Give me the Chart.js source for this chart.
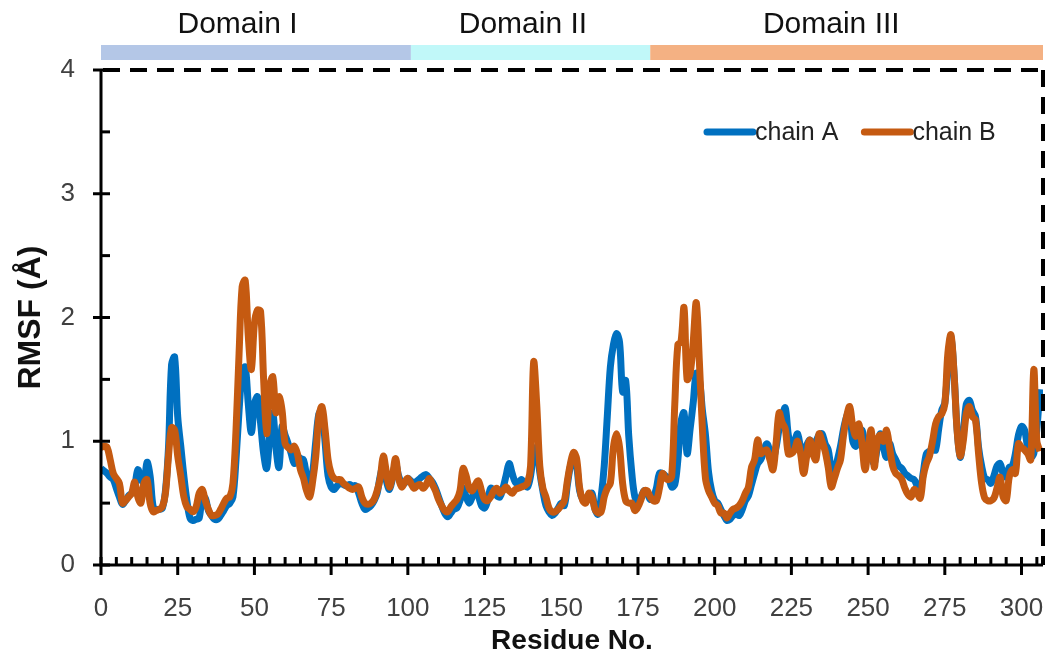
<!DOCTYPE html>
<html>
<head>
<meta charset="utf-8">
<script src="https://cdn.jsdelivr.net/npm/chart.js@4.4.1/dist/chart.umd.min.js"></script>
<style>
  html, body { margin: 0; padding: 0; background: #fff; }
  #wrap { width: 1050px; height: 661px; }
</style>
</head>
<body>
<div id="wrap"><canvas id="rmsf"></canvas></div>
<script>
// RMSF per residue (index = residue number)
const chainA = [
  0.78,0.76,0.74,0.71,0.69,0.62,0.55,0.49,0.52,0.56,
  0.58,0.64,0.77,0.70,0.66,0.83,0.72,0.47,0.45,0.45,
  0.46,0.60,0.95,1.62,1.68,1.20,0.96,0.72,0.52,0.38,
  0.36,0.37,0.38,0.55,0.54,0.44,0.40,0.37,0.37,0.40,
  0.44,0.48,0.50,0.55,0.85,1.25,1.55,1.60,1.30,1.07,
  1.30,1.36,1.15,0.90,0.78,1.05,1.23,0.95,0.79,1.12,
  1.05,0.98,0.90,0.82,0.88,0.86,0.85,0.72,0.62,0.75,
  1.00,1.22,1.25,1.00,0.72,0.63,0.61,0.64,0.66,0.65,
  0.64,0.65,0.64,0.64,0.58,0.50,0.45,0.46,0.48,0.52,
  0.58,0.72,0.80,0.68,0.61,0.70,0.82,0.72,0.66,0.66,
  0.70,0.68,0.66,0.68,0.70,0.72,0.73,0.70,0.67,0.62,
  0.55,0.48,0.42,0.39,0.42,0.45,0.46,0.52,0.62,0.55,
  0.50,0.55,0.63,0.56,0.48,0.46,0.52,0.62,0.60,0.56,
  0.55,0.62,0.72,0.82,0.74,0.67,0.66,0.69,0.66,0.63,
  0.72,0.90,0.95,0.75,0.60,0.48,0.43,0.40,0.42,0.46,
  0.50,0.48,0.65,0.80,0.87,0.80,0.60,0.53,0.52,0.56,
  0.58,0.45,0.41,0.55,0.80,1.20,1.60,1.78,1.87,1.80,
  1.40,1.49,1.04,0.74,0.55,0.52,0.55,0.60,0.58,0.53,
  0.55,0.62,0.74,0.74,0.72,0.70,0.63,0.65,0.85,1.15,
  1.23,0.90,1.10,1.31,1.55,1.50,1.25,1.05,0.75,0.60,
  0.52,0.50,0.45,0.40,0.36,0.37,0.40,0.41,0.40,0.45,
  0.52,0.56,0.65,0.74,0.82,0.85,0.92,0.98,0.92,0.85,
  0.95,1.10,1.20,1.27,1.05,0.96,1.00,1.06,0.95,0.90,
  0.97,1.01,0.98,1.00,1.05,1.06,0.98,0.93,0.78,0.76,
  0.85,0.96,1.10,1.20,1.25,1.00,0.96,1.05,1.09,0.98,
  0.96,0.88,0.82,0.95,1.06,0.95,0.87,0.98,0.90,0.85,
  0.80,0.78,0.74,0.72,0.70,0.69,0.64,0.61,0.75,0.90,
  0.92,0.93,0.93,1.10,1.25,1.31,1.60,1.85,1.55,1.10,
  0.87,1.05,1.30,1.33,1.25,1.20,0.95,0.80,0.70,0.69,
  0.66,0.72,0.80,0.82,0.74,0.71,0.79,0.80,0.90,1.05,
  1.12,1.09,0.95,0.87,0.90,1.10,1.42
];
const chainB = [
  0.95,0.96,0.95,0.85,0.74,0.70,0.66,0.50,0.52,0.55,
  0.58,0.67,0.55,0.50,0.66,0.69,0.50,0.43,0.44,0.45,
  0.47,0.58,0.88,1.11,1.09,0.88,0.72,0.55,0.47,0.45,
  0.43,0.47,0.58,0.61,0.52,0.45,0.40,0.40,0.41,0.45,
  0.50,0.54,0.55,0.66,1.09,1.71,2.25,2.30,1.85,1.58,
  1.95,2.06,2.05,1.50,1.06,1.45,1.52,1.23,1.36,1.25,
  0.98,0.95,0.93,0.96,0.90,0.77,0.70,0.60,0.55,0.68,
  0.88,1.20,1.28,1.10,0.85,0.74,0.70,0.69,0.69,0.66,
  0.64,0.62,0.61,0.62,0.63,0.55,0.50,0.49,0.50,0.53,
  0.60,0.70,0.88,0.75,0.63,0.72,0.86,0.70,0.63,0.67,
  0.70,0.66,0.62,0.64,0.65,0.62,0.65,0.70,0.65,0.60,
  0.53,0.48,0.44,0.43,0.47,0.50,0.53,0.60,0.78,0.72,
  0.62,0.60,0.65,0.68,0.60,0.53,0.52,0.55,0.60,0.62,
  0.58,0.60,0.63,0.60,0.58,0.61,0.62,0.63,0.64,0.66,
  0.80,1.64,1.30,0.80,0.62,0.55,0.46,0.43,0.43,0.45,
  0.48,0.52,0.68,0.82,0.91,0.86,0.62,0.52,0.50,0.58,
  0.55,0.45,0.42,0.43,0.55,0.62,0.66,0.95,1.06,0.95,
  0.66,0.52,0.50,0.50,0.44,0.47,0.53,0.60,0.60,0.55,
  0.52,0.52,0.62,0.74,0.70,0.69,0.72,1.30,1.78,1.80,
  2.08,1.50,1.55,1.80,2.12,1.65,1.10,0.70,0.60,0.55,
  0.50,0.48,0.42,0.42,0.38,0.42,0.45,0.46,0.48,0.52,
  0.58,0.63,0.79,0.85,1.01,0.90,0.92,0.93,0.85,0.77,
  0.98,1.23,1.15,1.10,0.90,0.90,0.93,1.00,0.90,0.74,
  0.88,1.01,0.90,0.85,1.06,1.00,0.92,0.79,0.63,0.70,
  0.78,0.85,1.05,1.20,1.28,1.12,1.04,1.14,0.98,0.77,
  0.95,1.09,0.79,1.00,1.05,1.00,1.09,0.95,0.80,0.74,
  0.72,0.69,0.62,0.57,0.55,0.61,0.58,0.54,0.72,0.82,
  0.88,1.00,1.14,1.20,1.22,1.30,1.71,1.86,1.55,1.09,
  0.88,1.00,1.22,1.28,1.20,1.17,0.90,0.66,0.54,0.52,
  0.52,0.54,0.62,0.71,0.55,0.52,0.71,0.77,0.74,0.98,
  0.95,0.93,0.90,0.85,1.58,1.00,0.92
];

// domain boundaries in residue numbers, and where each label sits
const domainNames = ["Domain I", "Domain II", "Domain III"];
const domainStart = [0, 101, 179];
const domainEnd = [101, 179, 307];
const domainLabelAt = [44.5, 137.5, 238];

const xMax = 307;
const yMax = 4;

const FONT = "'Liberation Sans', Arial, sans-serif";
const colors = {
  a: "#0070c0",
  b: "#c55a11",
  domains: ["#b4c7e7", "#c1f8f9", "#f4b183"],
  ink: "#000000",
  text: "#404040"
};

const toPoints = arr => arr.map((v, i) => ({ x: i, y: v }));

// axes, inward ticks, dashed frame, domain bars, legend
const framePlugin = {
  id: "frame",
  afterDatasetsDraw(chart) {
    const { ctx, chartArea: ca, scales } = chart;
    const xs = scales.x, ys = scales.y;
    ctx.save();
    ctx.strokeStyle = colors.ink;

    // dashed top + right
    ctx.lineWidth = 4;
    ctx.setLineDash([17, 10]);
    ctx.beginPath();
    ctx.moveTo(ca.left + 2, ca.top);
    ctx.lineTo(ca.right, ca.top);
    ctx.stroke();
    ctx.beginPath();
    ctx.moveTo(ca.right, ca.top);
    ctx.lineTo(ca.right, ca.bottom);
    ctx.stroke();
    ctx.setLineDash([]);

    // solid left + bottom
    ctx.lineWidth = 3;
    ctx.beginPath();
    ctx.moveTo(ca.left, ca.top);
    ctx.lineTo(ca.left, ca.bottom);
    ctx.lineTo(ca.right, ca.bottom);
    ctx.stroke();

    // x ticks
    for (let v = 0; v <= xMax; v += 5) {
      const px = xs.getPixelForValue(v);
      ctx.beginPath();
      ctx.moveTo(px, ca.bottom - 8);
      ctx.lineTo(px, v % 25 === 0 ? ca.bottom + 10 : ca.bottom);
      ctx.stroke();
    }
    // y ticks
    for (let v = 0; v <= yMax; v += 0.5) {
      const py = ys.getPixelForValue(v);
      ctx.beginPath();
      ctx.moveTo(Number.isInteger(v) ? ca.left - 8 : ca.left, py);
      ctx.lineTo(ca.left + 9, py);
      ctx.stroke();
    }
    ctx.restore();
  },
  afterDraw(chart) {
    const { ctx, chartArea: ca, scales } = chart;
    const xs = scales.x;
    ctx.save();
    // domain bars
    for (let i = 0; i < domainNames.length; i++) {
      const x0 = xs.getPixelForValue(domainStart[i]);
      const x1 = xs.getPixelForValue(domainEnd[i]);
      ctx.fillStyle = colors.domains[i];
      ctx.fillRect(x0, ca.top - 25, x1 - x0, 15);
      ctx.fillStyle = "#111";
      ctx.font = "30px " + FONT;
      ctx.textAlign = "center";
      ctx.textBaseline = "alphabetic";
      ctx.fillText(domainNames[i], xs.getPixelForValue(domainLabelAt[i]), ca.top - 37);
    }
    // legend
    const items = chart.data.datasets;
    let lx = ca.right - 340;
    const ly = ca.top + 62;
    ctx.font = "25px " + FONT;
    ctx.textAlign = "left";
    ctx.textBaseline = "middle";
    items.forEach(ds => {
      ctx.strokeStyle = ds.borderColor;
      ctx.lineWidth = 7;
      ctx.lineCap = "round";
      ctx.beginPath();
      ctx.moveTo(lx + 4, ly);
      ctx.lineTo(lx + 50, ly);
      ctx.stroke();
      ctx.fillStyle = "#222";
      ctx.fillText(ds.label, lx + 52, ly + 1);
      lx += 52 + ctx.measureText(ds.label).width + 22;
    });
    ctx.restore();
  }
};

new Chart(document.getElementById("rmsf"), {
  type: "line",
  data: {
    datasets: [
      {
        label: "chain A",
        data: toPoints(chainA),
        borderColor: colors.a,
        borderWidth: 7,
        pointRadius: 0,
        tension: 0.35,
        order: 2
      },
      {
        label: "chain B",
        data: toPoints(chainB),
        borderColor: colors.b,
        borderWidth: 7,
        pointRadius: 0,
        tension: 0.35,
        order: 1
      }
    ]
  },
  options: {
    responsive: true,
    maintainAspectRatio: false,
    animation: false,
    layout: { padding: { top: 70, right: 7, left: 0, bottom: 0 } },
    plugins: { legend: { display: false }, tooltip: { enabled: false } },
    scales: {
      x: {
        type: "linear",
        min: 0,
        max: xMax,
        grid: { display: false, drawTicks: false },
        border: { display: false },
        ticks: {
          stepSize: 25,
          padding: 28,
          color: colors.text,
          includeBounds: false,
          autoSkip: false,
          font: { family: FONT, size: 26 },
          maxRotation: 0
        },
        title: {
          display: true,
          text: "Residue No.",
          color: "#111",
          font: { family: FONT, size: 28, weight: "bold" },
          padding: { top: 0, bottom: 3 }
        },
        afterFit: s => {
          s.height = 96;
          s.paddingRight = 0;
          s.paddingLeft = 0;
        }
      },
      y: {
        min: 0,
        max: yMax,
        grid: { display: false, drawTicks: false },
        border: { display: false },
        ticks: {
          stepSize: 1,
          padding: 26,
          color: colors.text,
          font: { family: FONT, size: 26 }
        },
        title: {
          display: true,
          text: "RMSF (Å)",
          color: "#111",
          font: { family: FONT, size: 32, weight: "bold" },
          padding: { top: 12, bottom: 0 }
        },
        afterFit: s => {
          s.width = 101;
          s.paddingTop = 0;
          s.paddingBottom = 0;
        }
      }
    }
  },
  plugins: [framePlugin]
});
</script>
</body>
</html>
